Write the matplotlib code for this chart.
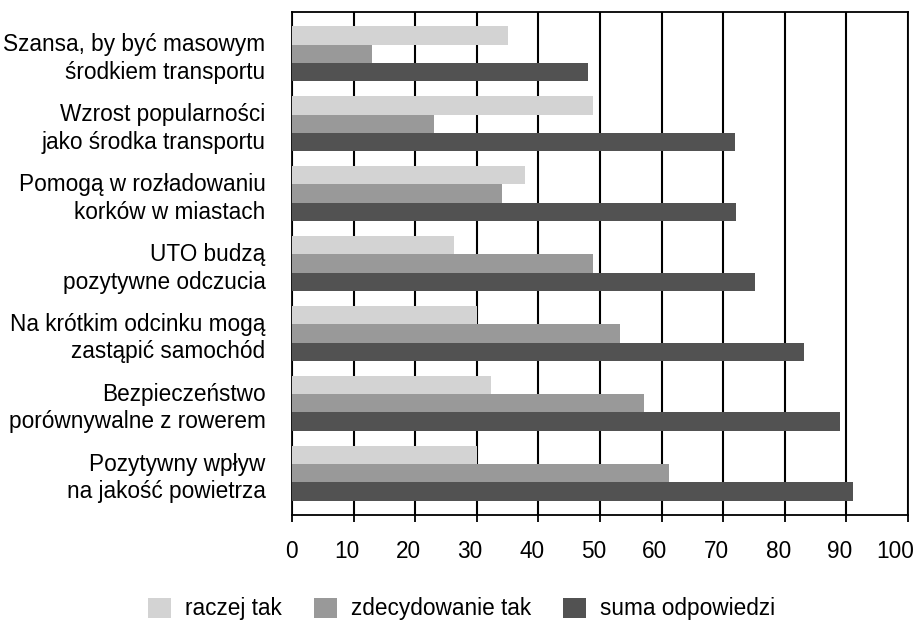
import numpy as np
import matplotlib
matplotlib.use("Agg")
import matplotlib.pyplot as plt
import matplotlib.transforms as mtransforms
from matplotlib.patches import Patch

plt.rcParams['font.family'] = ['Liberation Sans', 'DejaVu Sans']

# Dane
kategorie = [
    'Szansa, by być masowym\nśrodkiem transportu',
    'Wzrost popularności\njako środka transportu',
    'Pomogą w rozładowaniu\nkorków w miastach',
    'UTO budzą\npozytywne odczucia',
    'Na krótkim odcinku mogą\nzastąpić samochód',
    'Bezpieczeństwo\nporównywalne z rowerem',
    'Pozytywny wpływ\nna jakość powietrza',
]
raczej_tak = [35.0, 48.9, 37.8, 26.3, 30.1, 32.3, 30.1]
zdecydowanie_tak = [13.0, 23.1, 34.1, 48.9, 53.2, 57.1, 61.2]
suma_odpowiedzi = [48.1, 71.9, 72.0, 75.1, 83.1, 89.0, 91.1]
serie = ['raczej tak', 'zdecydowanie tak', 'suma odpowiedzi']
kolory = ['#d3d3d3', '#999999', '#525252']

fs = 16.3
fig = plt.figure(figsize=(9.2, 6.21), dpi=100)
ax = fig.add_axes([292/920, 1 - 515/621, (908 - 292)/920, (515 - 12)/621])

y = np.arange(len(kategorie))
h = 0.262
for k, (vals, c) in enumerate(zip([raczej_tak, zdecydowanie_tak, suma_odpowiedzi], kolory)):
    ax.barh(y + (k - 1) * h, vals, height=h, color=c, zorder=3, linewidth=0)

ax.set_xlim(0, 100)
ax.set_ylim(len(kategorie) - 1 + 0.6, -0.6)
ax.set_xticks(np.arange(0, 101, 10))
ax.set_yticks(y)
ax.set_yticklabels(kategorie, fontsize=fs, linespacing=1.25)
ax.tick_params(axis='y', length=0, pad=19)
ax.tick_params(axis='x', length=5, width=1.3, pad=13, labelsize=fs, color='black')
ax.xaxis.grid(True, color='black', linewidth=1.5, zorder=1)
ax.set_axisbelow(True)
for s in ax.spines.values():
    s.set_linewidth(1.3)
    s.set_color('black')

# etykiety osi X lekko przesunięte (wyrównane do prawej)
przes = mtransforms.ScaledTranslation(6/100, 0, fig.dpi_scale_trans)
for lab in ax.get_xticklabels():
    lab.set_horizontalalignment('right')
    lab.set_transform(lab.get_transform() + przes)

uchwyty = [Patch(facecolor=c, edgecolor='none', label=s) for s, c in zip(serie, kolory)]
fig.legend(handles=uchwyty, loc='center', bbox_to_anchor=(0.502, 1 - 609/621),
           ncol=3, frameon=False, fontsize=fs, handlelength=1.0, handleheight=1.0,
           handletextpad=0.65, columnspacing=1.4)

fig.savefig('out.png', dpi=100)
